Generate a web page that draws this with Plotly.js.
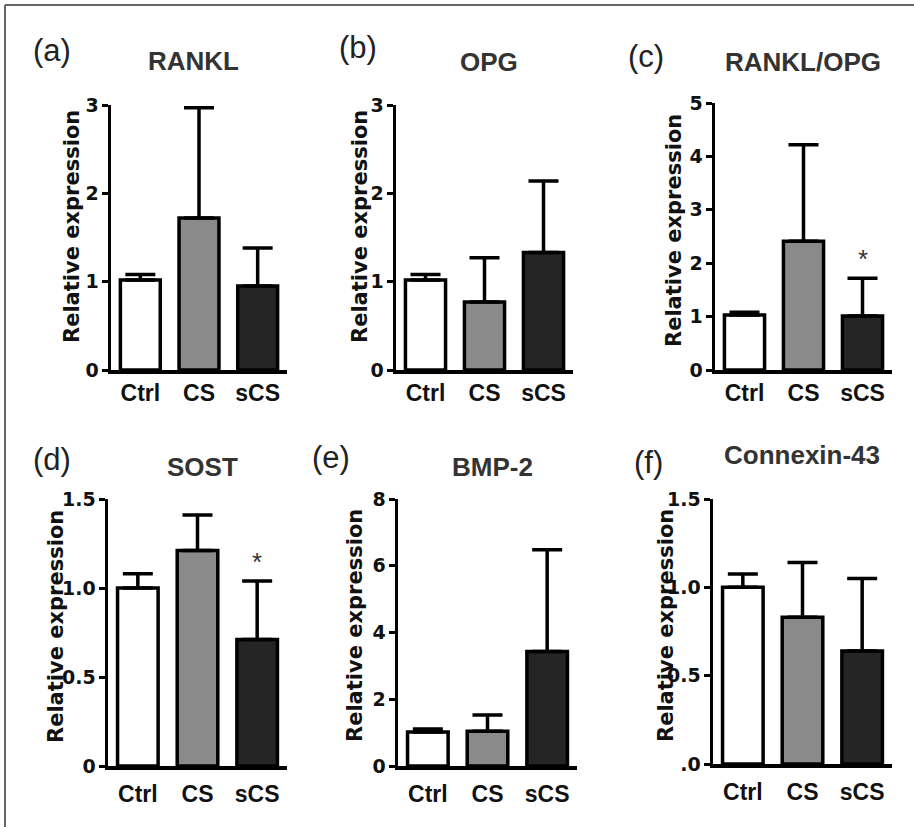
<!DOCTYPE html>
<html>
<head>
<meta charset="utf-8">
<script src="https://cdn.plot.ly/plotly-3.0.1.min.js"></script>
<style>html,body{margin:0;padding:0;background:#fff;}</style>
</head>
<body>
<div id="chart" style="width:914px;height:827px;"></div>
<script>
// ---- data ----
const categories = ['Ctrl', 'CS', 'sCS'];
const panelLetters = ['(a)', '(b)', '(c)', '(d)', '(e)', '(f)'];
const panelTitles = ['RANKL', 'OPG', 'RANKL/OPG', 'SOST', 'BMP-2', 'Connexin-43'];

const ranklMean = [1.02, 1.72, 0.95];
const ranklSD   = [0.06, 1.25, 0.43];
const opgMean   = [1.02, 0.77, 1.33];
const opgSD     = [0.06, 0.50, 0.81];
const ratioMean = [1.03, 2.41, 1.01];
const ratioSD   = [0.05, 1.81, 0.71];
const sostMean  = [1.00, 1.21, 0.71];
const sostSD    = [0.08, 0.20, 0.33];
const bmp2Mean  = [1.02, 1.04, 3.43];
const bmp2SD    = [0.09, 0.49, 3.05];
const cx43Mean  = [1.00, 0.83, 0.64];
const cx43SD    = [0.075, 0.31, 0.41];

const significant = [[false,false,false],[false,false,false],[false,false,true],
                     [false,false,true],[false,false,false],[false,false,false]];

const yTickVals = [[0,1,2,3],[0,1,2,3],[0,1,2,3,4,5],[0,0.5,1,1.5],[0,2,4,6,8],[0,0.5,1,1.5]];
const yTickText = [['0','1','2','3'],['0','1','2','3'],['0','1','2','3','4','5'],
                   ['0','0.5','1.0','1.5'],['0','2','4','6','8'],['.0','0.5','1.0','1.5']];
const yMax = [3, 3, 5, 1.5, 8, 1.5];
const yTitle = 'Relative expression';

const means = [ranklMean, opgMean, ratioMean, sostMean, bmp2Mean, cx43Mean];
const sds = [ranklSD, opgSD, ratioSD, sostSD, bmp2SD, cx43SD];

// ---- geometry (pixels in the 914x827 page) ----
const W = 914, H = 827;
const geom = [
  {L:111, R:287, B:370, T:105, letter:[52,50],  title:[193,61],  ytitle:[72,227], catPad:0},
  {L:396, R:573, B:370, T:105, letter:[358,47], title:[489,62],  ytitle:[360,227], catPad:0},
  {L:715, R:892, B:370, T:103, letter:[646,56], title:[803,62],  ytitle:[674,231], catPad:0},
  {L:108, R:287, B:766, T:499, letter:[52,460], title:[202,467], ytitle:[56,627], catPad:5},
  {L:398, R:577, B:766, T:499, letter:[331,457],title:[492,467], ytitle:[355,626], catPad:5},
  {L:713, R:892, B:764, T:499, letter:[648,462],title:[802,455], ytitle:[666,626], catPad:5}
];
const px = x => x / W;
const py = y => 1 - y / H;

const barColors = ['#ffffff', '#8a8a8a', '#252525'];
const FAM = 'Liberation Sans, Arial, sans-serif';
const WIDE = 'DejaVu Sans, sans-serif';
const tickFont = {family: WIDE, size: 19, color: '#111', weight: 700};
const catFont = {family: FAM, size: 23, color: '#111', weight: 700};

const traces = [];
const layout = {
  width: W, height: H,
  margin: {l: 0, r: 0, t: 0, b: 0},
  paper_bgcolor: '#ffffff', plot_bgcolor: 'rgba(0,0,0,0)',
  showlegend: false,
  annotations: [],
  shapes: [
    {type: 'line', xref: 'paper', yref: 'paper', x0: px(5), x1: 1, y0: py(5), y1: py(5), line: {color: '#666', width: 2}},
    {type: 'line', xref: 'paper', yref: 'paper', x0: px(5), x1: px(5), y0: py(5), y1: 0, line: {color: '#666', width: 2}}
  ]
};

means.forEach((m, i) => {
  const n = i + 1;
  const xa = 'x' + (n === 1 ? '' : n), ya = 'y' + (n === 1 ? '' : n);
  const xk = 'xaxis' + (n === 1 ? '' : n), yk = 'yaxis' + (n === 1 ? '' : n);
  const g = geom[i];
  traces.push({
    type: 'bar', x: categories, y: m, xaxis: xa, yaxis: ya,
    width: 0.68,
    marker: {color: barColors, line: {color: '#000', width: 3.5}},
    error_y: {type: 'data', symmetric: false, array: sds[i], arrayminus: [0,0,0],
              color: '#000', thickness: 3.5, width: 15},
    hoverinfo: 'skip'
  });
  layout[xk] = {
    domain: [px(g.L), px(g.R)], anchor: ya, range: [-0.5, 2.5],
    showline: true, linecolor: '#000', linewidth: 3.5, ticks: '', showgrid: false,
    zeroline: false, tickfont: catFont, ticklabelstandoff: g.catPad, fixedrange: true
  };
  layout[yk] = {
    domain: [py(g.B), py(g.T)], anchor: xa, range: [0, yMax[i]],
    tickvals: yTickVals[i], ticktext: yTickText[i],
    showline: true, linecolor: '#000', linewidth: 3.5, ticks: 'outside', ticklen: 6,
    tickwidth: 3, tickcolor: '#000', showgrid: false, zeroline: false,
    tickfont: tickFont, ticklabelstandoff: -1, fixedrange: true
  };
  layout.annotations.push({
    xref: 'paper', yref: 'paper', x: px(g.letter[0]), y: py(g.letter[1]),
    xanchor: 'center', yanchor: 'middle', showarrow: false, text: panelLetters[i],
    font: {family: FAM, size: 31, color: '#222'}
  });
  layout.annotations.push({
    xref: 'paper', yref: 'paper', x: px(g.title[0]), y: py(g.title[1]),
    xanchor: 'center', yanchor: 'middle', showarrow: false, text: panelTitles[i],
    font: {family: FAM, size: 26, color: '#333', weight: 700}
  });
  layout.annotations.push({
    xref: 'paper', yref: 'paper', x: px(g.ytitle[0]), y: py(g.ytitle[1]),
    xanchor: 'center', yanchor: 'middle', showarrow: false, text: yTitle, textangle: -90,
    font: {family: WIDE, size: 21, color: '#111', weight: 700}
  });
  significant[i].forEach((s, k) => {
    if (!s) return;
    layout.annotations.push({
      xref: xa, yref: ya, x: categories[k], y: m[k] + sds[i][k],
      xanchor: 'center', yanchor: 'bottom', yshift: 2, showarrow: false, text: '*',
      font: {family: FAM, size: 26, color: '#333'}
    });
  });
});

Plotly.newPlot('chart', traces, layout, {displayModeBar: false, staticPlot: true});
</script>
</body>
</html>
